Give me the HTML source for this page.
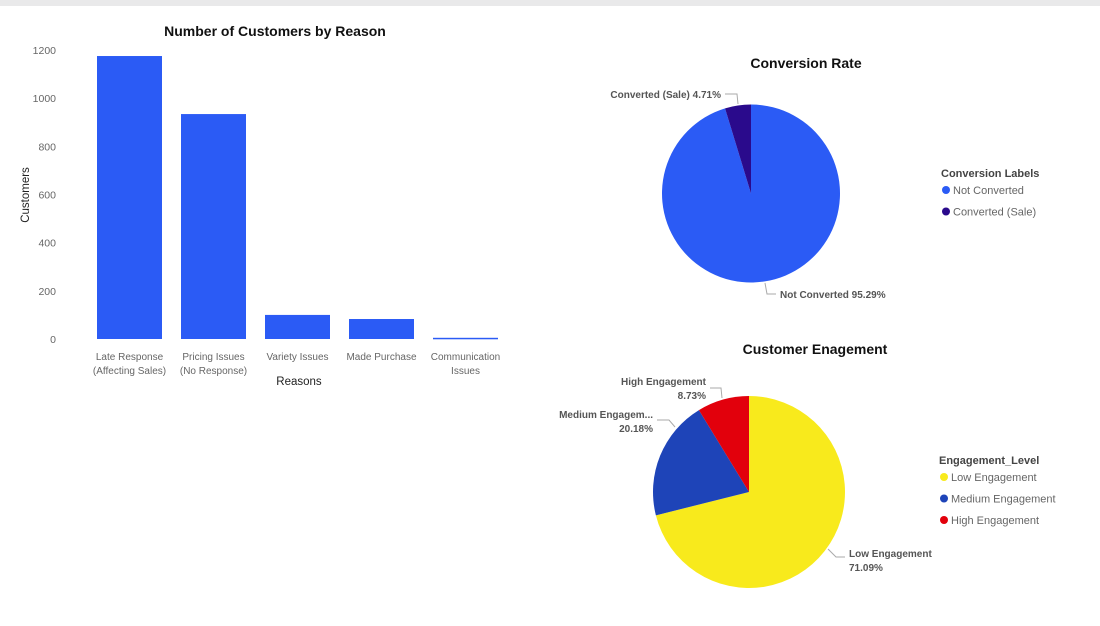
<!DOCTYPE html>
<html><head><meta charset="utf-8"><style>
body{margin:0;background:#fff;font-family:"Liberation Sans",sans-serif;}
svg text{font-family:"Liberation Sans",sans-serif;}
</style></head><body>
<svg id="c" width="1100" height="621" viewBox="0 0 1100 621" xmlns="http://www.w3.org/2000/svg">
<rect x="0" y="0" width="1100" height="621" fill="#fff"/>
<rect x="0" y="0" width="1100" height="6" fill="#e9e9ea"/>
<text x="275" y="36" text-anchor="middle" font-size="14" font-weight="bold" fill="#111">Number of Customers by Reason</text>
<text transform="translate(29,195) rotate(-90)" text-anchor="middle" font-size="11.5" fill="#222">Customers</text>
<text x="299" y="385" text-anchor="middle" font-size="11.5" fill="#222">Reasons</text>
<g id="bars"></g>
<text x="806" y="68" text-anchor="middle" font-size="14" font-weight="bold" fill="#111">Conversion Rate</text>
<g id="pie1"></g>
<text x="815" y="354" text-anchor="middle" font-size="14" font-weight="bold" fill="#111">Customer Enagement</text>
<g id="pie2"></g>
</svg>
<script>
const categories=[["Late Response","(Affecting Sales)"],["Pricing Issues","(No Response)"],["Variety Issues"],["Made Purchase"],["Communication","Issues"]];
const customers=[1175,934,100,83,5];
const yTicks=[0,200,400,600,800,1000,1200];
const convLabels=["Not Converted","Converted (Sale)"];
const convValues=[95.29,4.71];
const engLabels=["Low Engagement","Medium Engagement","High Engagement"];
const engValues=[71.09,20.18,8.73];

const NS="http://www.w3.org/2000/svg";
function mk(t,a,p){const e=document.createElementNS(NS,t);for(const k in a)e.setAttribute(k,a[k]);p.appendChild(e);return e;}
const y=v=>339-v/1200*289;
const x=i=>97+i*84;
const bw=65;
const bars=document.getElementById('bars');
yTicks.forEach(t=>{const e=mk('text',{x:56,y:y(t)+4,'text-anchor':'end','font-size':10.5,fill:'#666'},bars);e.textContent=t;

});
customers.forEach((v,i)=>{const r=mk('rect',{x:x(i),y:y(v),width:bw,height:Math.max(1.5,339-y(v)),fill:'#2b5bf5'},bars);


categories[i].forEach((l,j)=>{const t=mk('text',{x:x(i)+bw/2,y:360+j*14,'text-anchor':'middle','font-size':10,fill:'#666'},bars);t.textContent=l;

});});

function pie(g,cx,cy,r,vals,cols,names){let a=0;const tot=vals.reduce((s,v)=>s+v,0);
vals.forEach((v,i)=>{const a0=a,a1=a+v/tot*2*Math.PI;a=a1;
const p=(t)=>[cx+r*Math.sin(t),cy-r*Math.cos(t)];const [x0,y0]=p(a0),[x1,y1]=p(a1);
const s=mk('path',{d:`M${cx},${cy}L${x0},${y0}A${r},${r} 0 ${a1-a0>Math.PI?1:0} 1 ${x1},${y1}Z`,fill:cols[i]},g);

});}
function txt(g,x,y,s,o,name){const t=mk('text',Object.assign({x,y,'font-size':10},o),g);t.textContent=s;

return t;}
function line(g,pts,name){const l=mk('polyline',{points:pts,fill:'none',stroke:'#aaa','stroke-width':1},g);

}
function legend(g,x,y0,title,labels,cols,name){txt(g,x,y0,title,{'font-size':11,'font-weight':'bold',fill:'#444'},name+'-title');
labels.forEach((l,i)=>{const yy=y0+17+i*21.5;const c=mk('circle',{cx:x+5,cy:yy-4,r:4,fill:cols[i]},g);


txt(g,x+12,yy,l,{'font-size':11,fill:'#666'},name+'-entry');});}

const p1=document.getElementById('pie1');
const c1=['#2b5bf5','#2a0a8c'];
pie(p1,751,193.5,89,convValues,c1,['slice-not-converted','slice-converted']);
txt(p1,721,98,convLabels[1]+' '+convValues[1].toFixed(2)+'%',{'text-anchor':'end','font-weight':'bold',fill:'#555'},'label-converted');
line(p1,'725,94 737,94 738,104','leader-converted');
txt(p1,780,298,convLabels[0]+' '+convValues[0].toFixed(2)+'%',{'font-weight':'bold',fill:'#555'},'label-not-converted');
line(p1,'765,283 767,294 776,294','leader-not-converted');
legend(p1,941,177,'Conversion Labels',convLabels,c1,'conversion-legend');

const p2=document.getElementById('pie2');
const c2=['#f8ea1c','#1e44b8','#e2000c'];
pie(p2,749,492,96,engValues,c2,['slice-low','slice-medium','slice-high']);
txt(p2,706,385,'High Engagement',{'text-anchor':'end','font-weight':'bold',fill:'#555'},'label-high');
txt(p2,706,399,engValues[2].toFixed(2)+'%',{'text-anchor':'end','font-weight':'bold',fill:'#555'},'label-high-pct');
line(p2,'710,388 721,388 722,398','leader-high');
txt(p2,653,418,'Medium Engagem...',{'text-anchor':'end','font-weight':'bold',fill:'#555'},'label-medium');
txt(p2,653,432,engValues[1].toFixed(2)+'%',{'text-anchor':'end','font-weight':'bold',fill:'#555'},'label-medium-pct');
line(p2,'657,420 669,420 675,427','leader-medium');
txt(p2,849,557,'Low Engagement',{'font-weight':'bold',fill:'#555'},'label-low');
txt(p2,849,571,engValues[0].toFixed(2)+'%',{'font-weight':'bold',fill:'#555'},'label-low-pct');
line(p2,'828,549 836,557 845,557','leader-low');
legend(p2,939,464,'Engagement_Level',engLabels,c2,'engagement-legend');
</script>
</body></html>
